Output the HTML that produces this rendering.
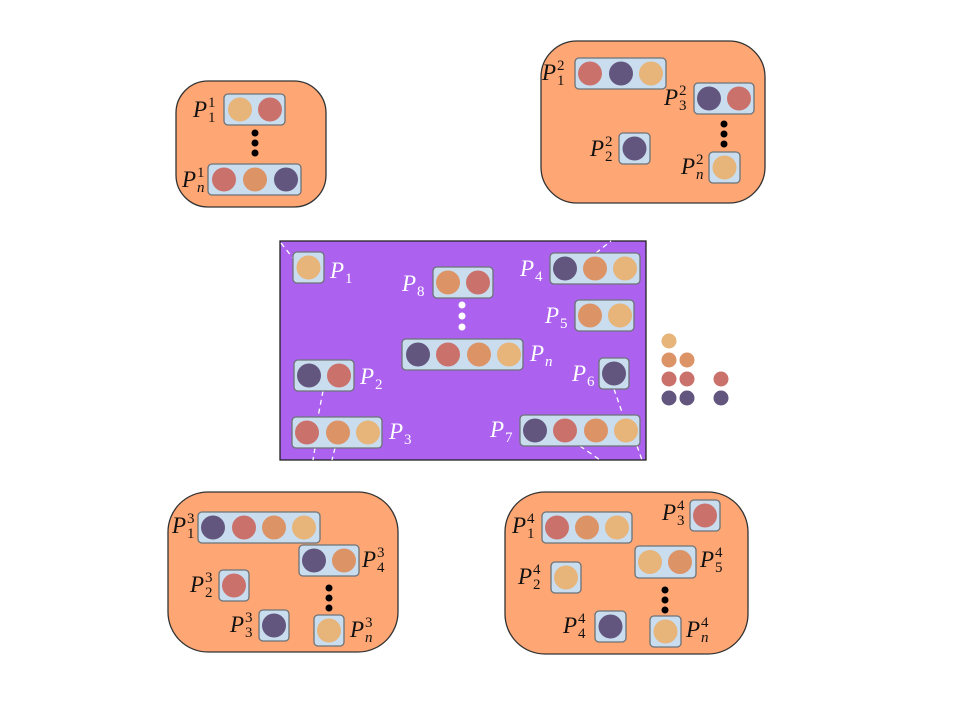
<!DOCTYPE html>
<html><head><meta charset="utf-8"><style>
html,body{margin:0;padding:0;background:#fff;}
svg{display:block;}
.P{font-family:"Liberation Serif",serif;font-style:italic;font-size:23px;fill:#111;}
.s{font-family:"Liberation Serif",serif;font-size:15px;font-style:normal;}
.si{font-family:"Liberation Serif",serif;font-size:15px;font-style:italic;}
.w{fill:#fff;}
.grp{fill:#FFA774;stroke:#333;stroke-width:1.3;}
.box{fill:#C9DDEE;stroke:#6b7378;stroke-width:1.3;}
.Y{fill:#E7B47A;}.O{fill:#DC9366;}.R{fill:#CB716C;}.D{fill:#62567F;}
.dash{stroke:#fff;stroke-width:1.3;stroke-dasharray:5 4;fill:none;}
</style></head><body>
<svg width="960" height="720" viewBox="0 0 960 720" xmlns="http://www.w3.org/2000/svg">
<rect class="grp" x="176" y="81" width="150" height="126" rx="32"/>
<rect class="box" x="224" y="94" width="61" height="31" rx="4"/>
<circle class="Y" cx="240" cy="109.5" r="12"/><circle class="R" cx="270" cy="109.5" r="12"/>
<circle cx="255" cy="133" r="3.5"/><circle cx="255" cy="143" r="3.5"/><circle cx="255" cy="153" r="3.5"/>
<rect class="box" x="208" y="164" width="93" height="31" rx="4"/>
<circle class="R" cx="224" cy="179.5" r="12"/><circle class="O" cx="255" cy="179.5" r="12"/><circle class="D" cx="286" cy="179.5" r="12"/>
<text class="P" x="193" y="117">P<tspan class="s" x="208" y="107">1</tspan><tspan class="s" x="208" y="122">1</tspan></text>
<text class="P" x="182" y="187">P<tspan class="s" x="197" y="177">1</tspan><tspan class="si" x="197" y="192">n</tspan></text>

<rect class="grp" x="541" y="41" width="224" height="162" rx="36"/>
<rect class="box" x="575" y="58" width="91" height="31" rx="4"/>
<circle class="R" cx="590" cy="73.5" r="12"/><circle class="D" cx="621" cy="73.5" r="12"/><circle class="Y" cx="651" cy="73.5" r="12"/>
<rect class="box" x="694" y="83" width="60" height="31" rx="4"/>
<circle class="D" cx="709" cy="98.5" r="12"/><circle class="R" cx="739" cy="98.5" r="12"/>
<circle cx="724" cy="124" r="3.5"/><circle cx="724" cy="134" r="3.5"/><circle cx="724" cy="144" r="3.5"/>
<rect class="box" x="619" y="133" width="31" height="31" rx="4"/>
<circle class="D" cx="634.5" cy="148.5" r="12"/>
<rect class="box" x="709" y="152" width="31" height="31" rx="4"/>
<circle class="Y" cx="724.5" cy="167.5" r="12"/>
<text class="P" x="542" y="80">P<tspan class="s" x="557" y="70">2</tspan><tspan class="s" x="557" y="85">1</tspan></text>
<text class="P" x="664" y="105">P<tspan class="s" x="679" y="95">2</tspan><tspan class="s" x="679" y="110">3</tspan></text>
<text class="P" x="590" y="156">P<tspan class="s" x="605" y="146">2</tspan><tspan class="s" x="605" y="161">2</tspan></text>
<text class="P" x="681" y="174">P<tspan class="s" x="696" y="164">2</tspan><tspan class="si" x="696" y="179">n</tspan></text>

<rect x="280" y="241" width="366" height="219" fill="#AC62EE" stroke="#222" stroke-width="1.3"/>
<line class="dash" x1="281" y1="243" x2="296" y2="262"/>
<line class="dash" x1="596" y1="253" x2="611" y2="241"/>
<line class="dash" x1="323" y1="391" x2="318" y2="417"/>
<line class="dash" x1="315" y1="448" x2="313" y2="460"/>
<line class="dash" x1="335" y1="448" x2="332" y2="460"/>
<line class="dash" x1="614" y1="389" x2="623" y2="415"/>
<line class="dash" x1="580" y1="446" x2="600" y2="460"/>
<line class="dash" x1="637" y1="446" x2="642" y2="460"/>
<rect class="box" x="293" y="252" width="31" height="31" rx="4"/>
<circle class="Y" cx="308.5" cy="267.5" r="12"/>
<rect class="box" x="433" y="267" width="60" height="31" rx="4"/>
<circle class="O" cx="448" cy="282.5" r="12"/><circle class="R" cx="478" cy="282.5" r="12"/>
<circle class="w" cx="462" cy="305" r="3.5"/><circle class="w" cx="462" cy="316" r="3.5"/><circle class="w" cx="462" cy="327" r="3.5"/>
<rect class="box" x="402" y="339" width="121" height="31" rx="4"/>
<circle class="D" cx="418" cy="354.5" r="12"/><circle class="R" cx="448" cy="354.5" r="12"/><circle class="O" cx="479" cy="354.5" r="12"/><circle class="Y" cx="509" cy="354.5" r="12"/>
<rect class="box" x="550" y="253" width="90" height="31" rx="4"/>
<circle class="D" cx="565" cy="268.5" r="12"/><circle class="O" cx="595" cy="268.5" r="12"/><circle class="Y" cx="625" cy="268.5" r="12"/>
<rect class="box" x="575" y="300" width="59" height="31" rx="4"/>
<circle class="O" cx="590" cy="315.5" r="12"/><circle class="Y" cx="620" cy="315.5" r="12"/>
<rect class="box" x="599" y="358" width="30" height="31" rx="4"/>
<circle class="D" cx="614" cy="373.5" r="12"/>
<rect class="box" x="520" y="415" width="120" height="31" rx="4"/>
<circle class="D" cx="535" cy="430.5" r="12"/><circle class="R" cx="565" cy="430.5" r="12"/><circle class="O" cx="596" cy="430.5" r="12"/><circle class="Y" cx="626" cy="430.5" r="12"/>
<rect class="box" x="294" y="360" width="60" height="31" rx="4"/>
<circle class="D" cx="309" cy="375.5" r="12"/><circle class="R" cx="339" cy="375.5" r="12"/>
<rect class="box" x="292" y="417" width="90" height="31" rx="4"/>
<circle class="R" cx="307" cy="432.5" r="12"/><circle class="O" cx="338" cy="432.5" r="12"/><circle class="Y" cx="368" cy="432.5" r="12"/>
<text class="P w" x="330" y="278">P<tspan class="s" x="345" y="283">1</tspan></text>
<text class="P w" x="402" y="291">P<tspan class="s" x="417" y="296">8</tspan></text>
<text class="P w" x="530" y="361">P<tspan class="si" x="545" y="366">n</tspan></text>
<text class="P w" x="520" y="276">P<tspan class="s" x="535" y="281">4</tspan></text>
<text class="P w" x="545" y="323">P<tspan class="s" x="560" y="328">5</tspan></text>
<text class="P w" x="572" y="381">P<tspan class="s" x="587" y="386">6</tspan></text>
<text class="P w" x="490" y="437">P<tspan class="s" x="505" y="442">7</tspan></text>
<text class="P w" x="360" y="384">P<tspan class="s" x="375" y="389">2</tspan></text>
<text class="P w" x="389" y="439">P<tspan class="s" x="404" y="444">3</tspan></text>

<circle class="Y" cx="669" cy="341" r="7.5"/>
<circle class="O" cx="669" cy="360" r="7.5"/><circle class="O" cx="687" cy="360" r="7.5"/>
<circle class="R" cx="669" cy="379" r="7.5"/><circle class="R" cx="687" cy="379" r="7.5"/><circle class="R" cx="721" cy="379" r="7.5"/>
<circle class="D" cx="669" cy="398" r="7.5"/><circle class="D" cx="687" cy="398" r="7.5"/><circle class="D" cx="721" cy="398" r="7.5"/>

<rect class="grp" x="168" y="492" width="230" height="160" rx="40"/>
<rect class="box" x="198" y="512" width="122" height="31" rx="4"/>
<circle class="D" cx="213" cy="527.5" r="12"/><circle class="R" cx="244" cy="527.5" r="12"/><circle class="O" cx="274" cy="527.5" r="12"/><circle class="Y" cx="304" cy="527.5" r="12"/>
<rect class="box" x="299" y="545" width="60" height="31" rx="4"/>
<circle class="D" cx="314" cy="560.5" r="12"/><circle class="O" cx="344" cy="560.5" r="12"/>
<rect class="box" x="219" y="570" width="30" height="31" rx="4"/>
<circle class="R" cx="234" cy="585.5" r="12"/>
<circle cx="329" cy="588" r="3.5"/><circle cx="329" cy="598" r="3.5"/><circle cx="329" cy="608" r="3.5"/>
<rect class="box" x="259" y="610" width="30" height="31" rx="4"/>
<circle class="D" cx="274" cy="625.5" r="12"/>
<rect class="box" x="314" y="615" width="30" height="31" rx="4"/>
<circle class="Y" cx="329" cy="630.5" r="12"/>
<text class="P" x="172" y="533">P<tspan class="s" x="187" y="523">3</tspan><tspan class="s" x="187" y="538">1</tspan></text>
<text class="P" x="362" y="567">P<tspan class="s" x="377" y="557">3</tspan><tspan class="s" x="377" y="572">4</tspan></text>
<text class="P" x="190" y="592">P<tspan class="s" x="205" y="582">3</tspan><tspan class="s" x="205" y="597">2</tspan></text>
<text class="P" x="230" y="632">P<tspan class="s" x="245" y="622">3</tspan><tspan class="s" x="245" y="637">3</tspan></text>
<text class="P" x="350" y="637">P<tspan class="s" x="365" y="627">3</tspan><tspan class="si" x="365" y="642">n</tspan></text>

<rect class="grp" x="505" y="492" width="243" height="162" rx="40"/>
<rect class="box" x="542" y="512" width="90" height="31" rx="4"/>
<circle class="R" cx="557" cy="527.5" r="12"/><circle class="O" cx="587" cy="527.5" r="12"/><circle class="Y" cx="617" cy="527.5" r="12"/>
<rect class="box" x="690" y="500" width="30" height="31" rx="4"/>
<circle class="R" cx="705" cy="515.5" r="12"/>
<rect class="box" x="635" y="546" width="61" height="32" rx="4"/>
<circle class="Y" cx="650" cy="562" r="12"/><circle class="O" cx="680" cy="562" r="12"/>
<rect class="box" x="551" y="562" width="30" height="31" rx="4"/>
<circle class="Y" cx="566" cy="577.5" r="12"/>
<circle cx="665" cy="590" r="3.5"/><circle cx="665" cy="600" r="3.5"/><circle cx="665" cy="610" r="3.5"/>
<rect class="box" x="595" y="611" width="31" height="31" rx="4"/>
<circle class="D" cx="610.5" cy="626.5" r="12"/>
<rect class="box" x="650" y="616" width="31" height="31" rx="4"/>
<circle class="Y" cx="665.5" cy="631.5" r="12"/>
<text class="P" x="512" y="533">P<tspan class="s" x="527" y="523">4</tspan><tspan class="s" x="527" y="538">1</tspan></text>
<text class="P" x="662" y="520">P<tspan class="s" x="677" y="510">4</tspan><tspan class="s" x="677" y="525">3</tspan></text>
<text class="P" x="700" y="567">P<tspan class="s" x="715" y="557">4</tspan><tspan class="s" x="715" y="572">5</tspan></text>
<text class="P" x="518" y="584">P<tspan class="s" x="533" y="574">4</tspan><tspan class="s" x="533" y="589">2</tspan></text>
<text class="P" x="563" y="633">P<tspan class="s" x="578" y="623">4</tspan><tspan class="s" x="578" y="638">4</tspan></text>
<text class="P" x="686" y="637">P<tspan class="s" x="701" y="627">4</tspan><tspan class="si" x="701" y="642">n</tspan></text>
</svg>
</body></html>
